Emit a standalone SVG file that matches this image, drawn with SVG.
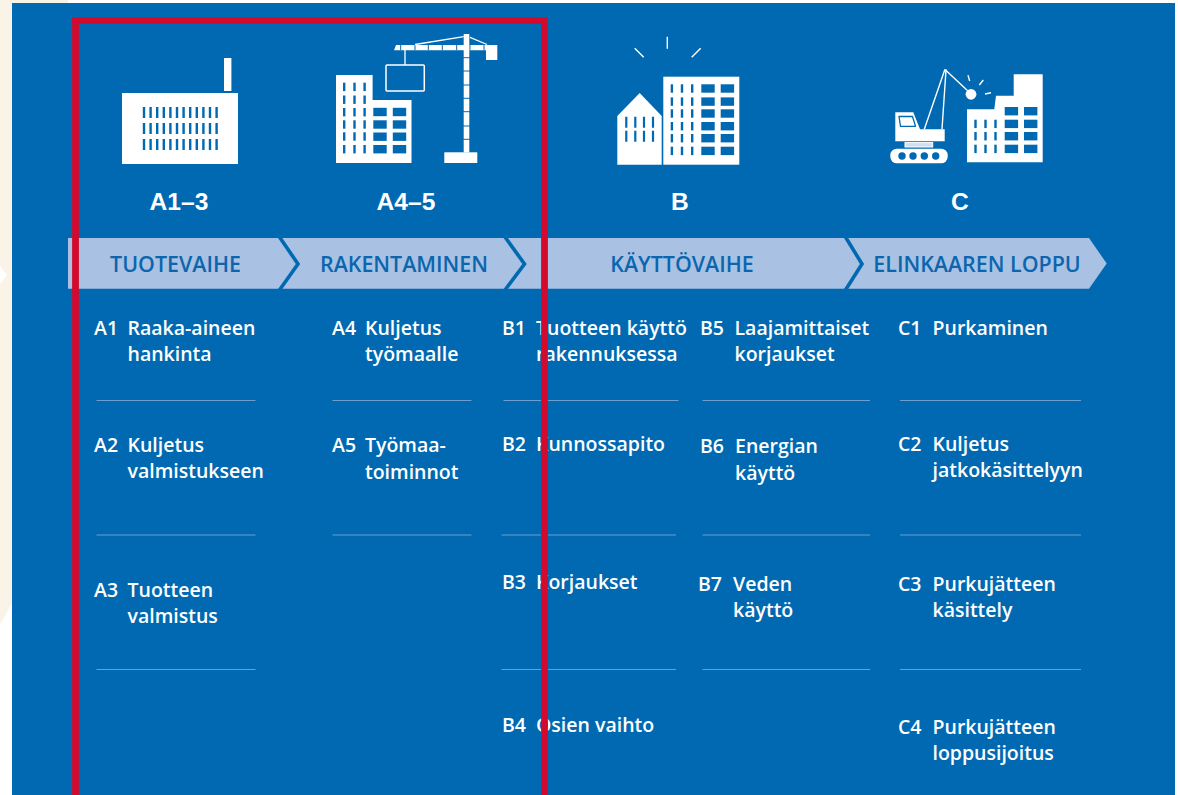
<svg xmlns="http://www.w3.org/2000/svg" width="1178" height="795" viewBox="0 0 1178 795">
<style>
.w{fill:#fff}.b{fill:#0069b1}
.h{font:bold 24.6px "Liberation Sans",Arial,sans-serif;fill:#fff;text-anchor:middle}
.p{font:600 21.4px "Open Sans",sans-serif;fill:#0b66ae;text-anchor:middle}
.t{font:600 19.5px "Open Sans",sans-serif;fill:#fff}
.d{stroke:#6a9fd0;stroke-width:1.2;fill:none}
.c{stroke:#0069b1;stroke-width:3.6;fill:none}
.l{stroke:#fff;fill:none}
</style>
<defs>
<g id="nw"><rect class="b" width="2.4" height="8.4"/></g>
<g id="ww"><rect class="b" width="13.4" height="8.4"/></g>
</defs>
<rect width="1178" height="795" fill="#fff"/>
<path d="M0 0H68V3H12V603L0 625Z" fill="#faf3e8"/>
<path d="M0 266L7 275L0 284Z" fill="#fff"/>
<rect class="b" x="12" y="3" width="1163" height="792"/>

<g id="icon-a13">
<rect class="w" x="122" y="93" width="116" height="71"/>
<rect class="w" x="224" y="58" width="7.4" height="33"/>
<path fill="none" stroke="#0069b1" stroke-width="2.4" stroke-dasharray="11 5" d="M144 107V151M150.600 107V151M157.200 107V151M163.800 107V151M170.400 107V151M177 107V151M183.600 107V151M190.200 107V151M196.800 107V151M203.400 107V151M210 107V151M216.600 107V151"/>
</g>
<g id="icon-a45">
<path class="w" d="M336 75H372.600V100H411.500V163H336Z"/>
<use href="#nw" x="343" y="82.700"/><use href="#nw" x="353.300" y="82.700"/><use href="#nw" x="363.400" y="82.700"/>
<use href="#nw" x="343" y="95.500"/><use href="#nw" x="353.300" y="95.500"/><use href="#nw" x="363.400" y="95.500"/>
<use href="#nw" x="343" y="108"/><use href="#nw" x="353.300" y="108"/><use href="#nw" x="363.400" y="108"/>
<use href="#nw" x="343" y="120.300"/><use href="#nw" x="353.300" y="120.300"/><use href="#nw" x="363.400" y="120.300"/>
<use href="#nw" x="343" y="132.300"/><use href="#nw" x="353.300" y="132.300"/><use href="#nw" x="363.400" y="132.300"/>
<use href="#nw" x="343" y="145"/><use href="#nw" x="353.300" y="145"/><use href="#nw" x="363.400" y="145"/>
<use href="#ww" x="373.300" y="107.800"/><use href="#ww" x="392.800" y="107.800"/>
<use href="#ww" x="373.300" y="120.300"/><use href="#ww" x="392.800" y="120.300"/>
<use href="#ww" x="373.300" y="132.500"/><use href="#ww" x="392.800" y="132.500"/>
<use href="#ww" x="373.300" y="145"/><use href="#ww" x="392.800" y="145"/>
<rect class="w" x="463.700" y="34" width="5.600" height="118.500"/>
<rect class="w" x="444.300" y="152.300" width="33" height="10.700"/>
<path class="w" d="M396 45H497.300V60H486V50.300H394Z"/>
<path stroke="#0069b1" stroke-width="1" fill="none" d="M463 57.700H470M463 71H470M463 85H470M463 98.300H470M463 111.700H470M463 126H470M463 139.300H470M400.700 45V50.300M415 45V50.300M428.300 45V50.300M442.300 45V50.300M456.700 45V50.300M470 45V50.300M484 45V50.300"/>
<path class="l" stroke-width="1.300" d="M405 50V65M463.700 36.700L415 44.500M470 37.300L487 44.500"/>
<rect x="386" y="65" width="38.300" height="26" rx="1" fill="none" stroke="#fff" stroke-width="1.500"/>
</g>
<g id="icon-b">
<path class="w" d="M617.300 116L639.700 93L661.700 116V164.700H617.300Z"/>
<rect class="w" x="663.300" y="76.700" width="76" height="88"/>
<path fill="none" stroke="#0069b1" stroke-width="2.200" stroke-dasharray="11 3" d="M626.300 116.700V142M635.300 116.700V142M644 116.700V142M653 116.700V142"/>
<use href="#nw" x="670.700" y="84.300"/><use href="#nw" x="680.800" y="84.300"/><use href="#nw" x="691" y="84.300"/><use href="#ww" x="701.300" y="84.300"/><use href="#ww" x="720.700" y="84.300"/>
<use href="#nw" x="670.700" y="97.400"/><use href="#nw" x="680.800" y="97.400"/><use href="#nw" x="691" y="97.400"/><use href="#ww" x="701.300" y="97.400"/><use href="#ww" x="720.700" y="97.400"/>
<use href="#nw" x="670.700" y="109.300"/><use href="#nw" x="680.800" y="109.300"/><use href="#nw" x="691" y="109.300"/><use href="#ww" x="701.300" y="109.300"/><use href="#ww" x="720.700" y="109.300"/>
<use href="#nw" x="670.700" y="122"/><use href="#nw" x="680.800" y="122"/><use href="#nw" x="691" y="122"/><use href="#ww" x="701.300" y="122"/><use href="#ww" x="720.700" y="122"/>
<use href="#nw" x="670.700" y="134"/><use href="#nw" x="680.800" y="134"/><use href="#nw" x="691" y="134"/><use href="#ww" x="701.300" y="134"/><use href="#ww" x="720.700" y="134"/>
<use href="#nw" x="670.700" y="146.700"/><use href="#nw" x="680.800" y="146.700"/><use href="#nw" x="691" y="146.700"/><use href="#ww" x="701.300" y="146.700"/><use href="#ww" x="720.700" y="146.700"/>
<path class="l" stroke-width="1.400" d="M667.300 36.700V48.700M634.700 48.300L643.700 57.300M700.700 48.300L691.700 57.300"/>
</g>
<g id="icon-c">
<path class="w" d="M967 109.300H994.300L996 95.700H1013.700V74.300H1042.700V162.300H967Z"/>
<use href="#nw" x="974.300" y="119.700"/><use href="#nw" x="984.300" y="119.700"/><use href="#nw" x="994.300" y="119.700"/>
<use href="#nw" x="974.300" y="132"/><use href="#nw" x="984.300" y="132"/><use href="#nw" x="994.300" y="132"/>
<use href="#nw" x="974.300" y="144.700"/><use href="#nw" x="984.300" y="144.700"/><use href="#nw" x="994.300" y="144.700"/>
<use href="#ww" x="1004.700" y="107"/><use href="#ww" x="1024" y="107"/>
<use href="#ww" x="1004.700" y="119.700"/><use href="#ww" x="1024" y="119.700"/>
<use href="#ww" x="1004.700" y="132"/><use href="#ww" x="1024" y="132"/>
<use href="#ww" x="1004.700" y="144.700"/><use href="#ww" x="1024" y="144.700"/>
<path class="w" d="M895.300 112.300H913.300L920 129.300H944.700V141.300H895.300Z"/>
<path d="M899 116.500H912.500L915.500 126.300H900.500Z" fill="#fff" stroke="#0069b1" stroke-width="1.300" stroke-linejoin="round"/>
<rect x="905" y="142.600" width="27.700" height="4.400" fill="#cfe0f2" stroke="#fff" stroke-width="1"/>
<rect class="w" x="890.300" y="148.700" width="57.400" height="14.600" rx="6.500"/>
<circle class="b" cx="902" cy="156" r="3.700"/><circle class="b" cx="913" cy="156" r="3.700"/><circle class="b" cx="924.300" cy="156" r="3.700"/><circle class="b" cx="935.700" cy="156" r="3.700"/>
<path class="l" stroke-width="1.400" d="M924.300 129.300L944.700 70L946 70L942 129.300M945.500 70L967.700 90.700M968 75.300L969.700 81M983.300 80L979.300 85M991 92.700L985 94"/>
<circle class="w" cx="971" cy="94.300" r="5.400"/>
</g>
<g id="headers">
<text class="h" x="179" y="210">A1–3</text>
<text class="h" x="406" y="210">A4–5</text>
<text class="h" x="680" y="210">B</text>
<text class="h" x="960" y="210">C</text>
</g>
<g id="phase-bar">
<path d="M68 238H1089L1106.700 263.500L1089 288.700H68Z" fill="#a9c1e3"/>
<path class="c" d="M279.500 237L298 264L279.500 290M505 237L524.500 264L505 290M845.500 237L862 264L845.500 290"/>
<text class="p" x="175.500" y="271.500">TUOTEVAIHE</text>
<text class="p" x="404" y="271.500">RAKENTAMINEN</text>
<text class="p" x="682" y="271.500">KÄYTTÖVAIHE</text>
<text class="p" x="977" y="271.500">ELINKAAREN LOPPU</text>
</g>
<g id="dividers">
<path class="d" d="M96.500 400.500H255.500M96.500 535H255.500M96.500 669.500H255.500M332.500 400.500H471.500M332.500 535H471.500M503.500 400.500H678.500M501.500 535H676M501.500 669.500H676M702.500 400.500H870M702.500 535H870M702.500 669.500H870M900 400.500H1081M900 535H1081M900 669.500H1081"/>
</g>
<g id="col-a13">
<text class="t" x="94" y="335">A1</text><text class="t" x="127.500" y="335">Raaka-aineen</text><text class="t" x="127.500" y="361">hankinta</text>
<text class="t" x="94" y="452">A2</text><text class="t" x="127.500" y="452">Kuljetus</text><text class="t" x="127.500" y="478">valmistukseen</text>
<text class="t" x="94" y="597">A3</text><text class="t" x="127.500" y="597">Tuotteen</text><text class="t" x="127.500" y="623">valmistus</text>
</g>
<g id="col-a45">
<text class="t" x="332" y="335">A4</text><text class="t" x="365" y="335">Kuljetus</text><text class="t" x="365" y="361">työmaalle</text>
<text class="t" x="332" y="452">A5</text><text class="t" x="365" y="452">Työmaa-</text><text class="t" x="365" y="479">toiminnot</text>
</g>
<g id="col-b">
<text class="t" x="502" y="335">B1</text><text class="t" x="536" y="335">Tuotteen käyttö</text><text class="t" x="536" y="361">rakennuksessa</text>
<text class="t" x="502" y="451">B2</text><text class="t" x="536" y="451">Kunnossapito</text>
<text class="t" x="502" y="589">B3</text><text class="t" x="536" y="589">Korjaukset</text>
<text class="t" x="502" y="732">B4</text><text class="t" x="536" y="732">Osien vaihto</text>
<text class="t" x="700" y="335">B5</text><text class="t" x="734.500" y="335">Laajamittaiset</text><text class="t" x="734.500" y="361">korjaukset</text>
<text class="t" x="700" y="453">B6</text><text class="t" x="735" y="453">Energian</text><text class="t" x="735" y="480">käyttö</text>
<text class="t" x="698" y="591">B7</text><text class="t" x="733" y="591">Veden</text><text class="t" x="733" y="617">käyttö</text>
</g>
<g id="col-c">
<text class="t" x="898" y="335">C1</text><text class="t" x="932.500" y="335">Purkaminen</text>
<text class="t" x="898" y="451">C2</text><text class="t" x="932.500" y="451">Kuljetus</text><text class="t" x="932.500" y="477">jatkokäsittelyyn</text>
<text class="t" x="898" y="591">C3</text><text class="t" x="932.500" y="591">Purkujätteen</text><text class="t" x="932.500" y="617">käsittely</text>
<text class="t" x="898" y="734">C4</text><text class="t" x="932.500" y="734">Purkujätteen</text><text class="t" x="932.500" y="760">loppusijoitus</text>
</g>
<g id="highlight">
<path d="M75.500 800V20.700H544.500V800" fill="none" stroke="#d20b2e" stroke-width="6.800"/>
</g>
</svg>
